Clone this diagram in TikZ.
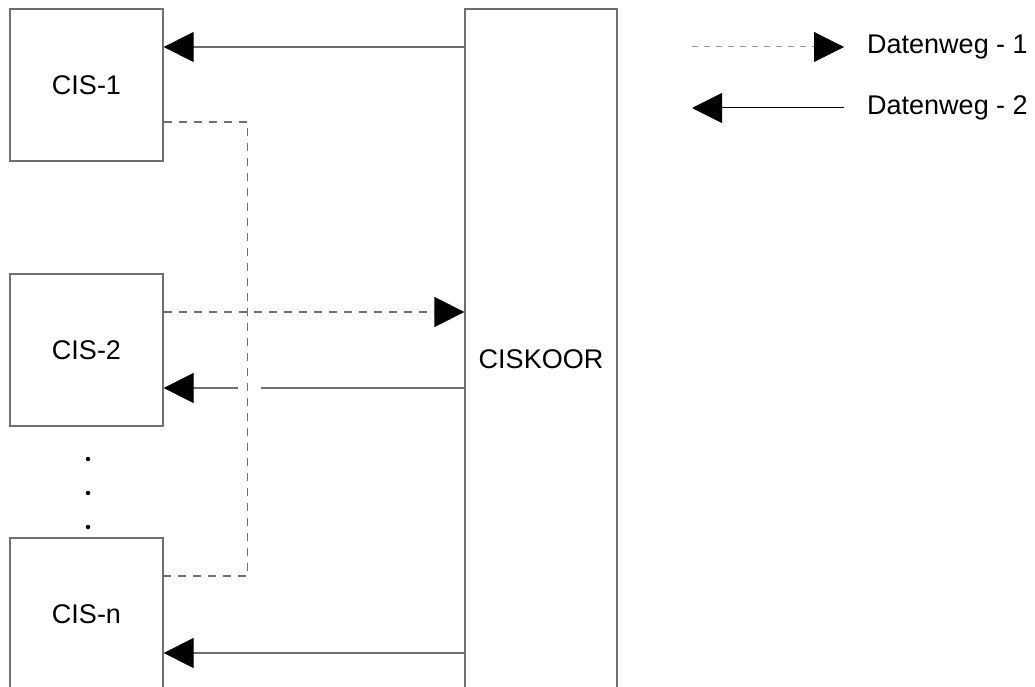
\documentclass[tikz,border=0pt]{standalone}
\usepackage{fontspec}
\setmainfont{Liberation Sans}
\usetikzlibrary{arrows.meta}
\definecolor{box_gray}{RGB}{112,112,112}
\definecolor{leg_gray}{RGB}{150,150,150}
\tikzstyle{cis}=[rectangle,draw=box_gray,line width=1.3pt,inner sep=0pt,
  minimum width=153pt,minimum height=152pt,font=\fontsize{27}{32}\selectfont]
\tikzstyle{koor}=[rectangle,draw=box_gray,line width=1.3pt,inner sep=0pt,
  minimum width=152pt,minimum height=700pt,font=\fontsize{27}{32}\selectfont]
\tikzstyle{sline}=[draw=box_gray,line width=1.3pt]
\tikzstyle{dline}=[draw=box_gray,line width=1.3pt,dash pattern=on 8pt off 7pt]
\tikzstyle{tip}=[-{Triangle[length=30pt,width=30pt,black]}]
\tikzstyle{legtext}=[anchor=west,inner sep=0pt,font=\fontsize{27}{32}\selectfont]
\tikzstyle{dot}=[circle,fill=black,inner sep=0pt,minimum size=4.5pt]

\begin{document}
\begin{tikzpicture}[x=1pt,y=-1pt]
    \useasboundingbox (0,0) rectangle (1035,687);
    \node [style=cis] (cis1) at (86.5,85) {CIS-1};
    \node [style=cis] (cis2) at (86.5,350) {CIS-2};
    \node [style=cis] (cisn) at (86.5,614) {CIS-n};
    \node [style=koor] (koor) at (541,359) {CISKOOR};
    \node [style=dot] (dot1) at (88,459) {};
    \node [style=dot] (dot2) at (88,493) {};
    \node [style=dot] (dot3) at (88,527) {};
    \coordinate (gapl) at (238,388);
    \coordinate (gapr) at (261,388);
    % Datenweg 1
    \draw [style=dline] ([yshift=-37pt]cis1.east) -- ++(84,0) |- ([yshift=38pt]cisn.east);
    \draw [style=dline,style=tip] ([yshift=38pt]cis2.east) -- ([yshift=38pt]koor.west |- cis2.east);
    % Datenweg 2
    \draw [style=sline,style=tip] ([yshift=38pt]koor.west |- cis1.east) -- ([yshift=38pt]cis1.east);
    \draw [style=sline] ([yshift=-38pt]koor.west |- cis2.east) -- (gapr);
    \draw [style=sline,style=tip] (gapl) -- ([yshift=-38pt]cis2.east);
    \draw [style=sline,style=tip] ([yshift=-39pt]koor.west |- cisn.east) -- ([yshift=-39pt]cisn.east);
    % legend
    \coordinate (l1a) at (692,47);
    \coordinate (l1b) at (844,47);
    \coordinate (l2a) at (844,108);
    \coordinate (l2b) at (692,108);
    \draw [draw=leg_gray,line width=1pt,dash pattern=on 6pt off 6pt,style=tip] (l1a) -- (l1b);
    \draw [draw=black,line width=1pt,style=tip] (l2a) -- (l2b);
    \node [style=legtext] (leg1) at (867,47) {Datenweg - 1};
    \node [style=legtext] (leg2) at (867,108) {Datenweg - 2};
  \end{tikzpicture}
\end{document}
